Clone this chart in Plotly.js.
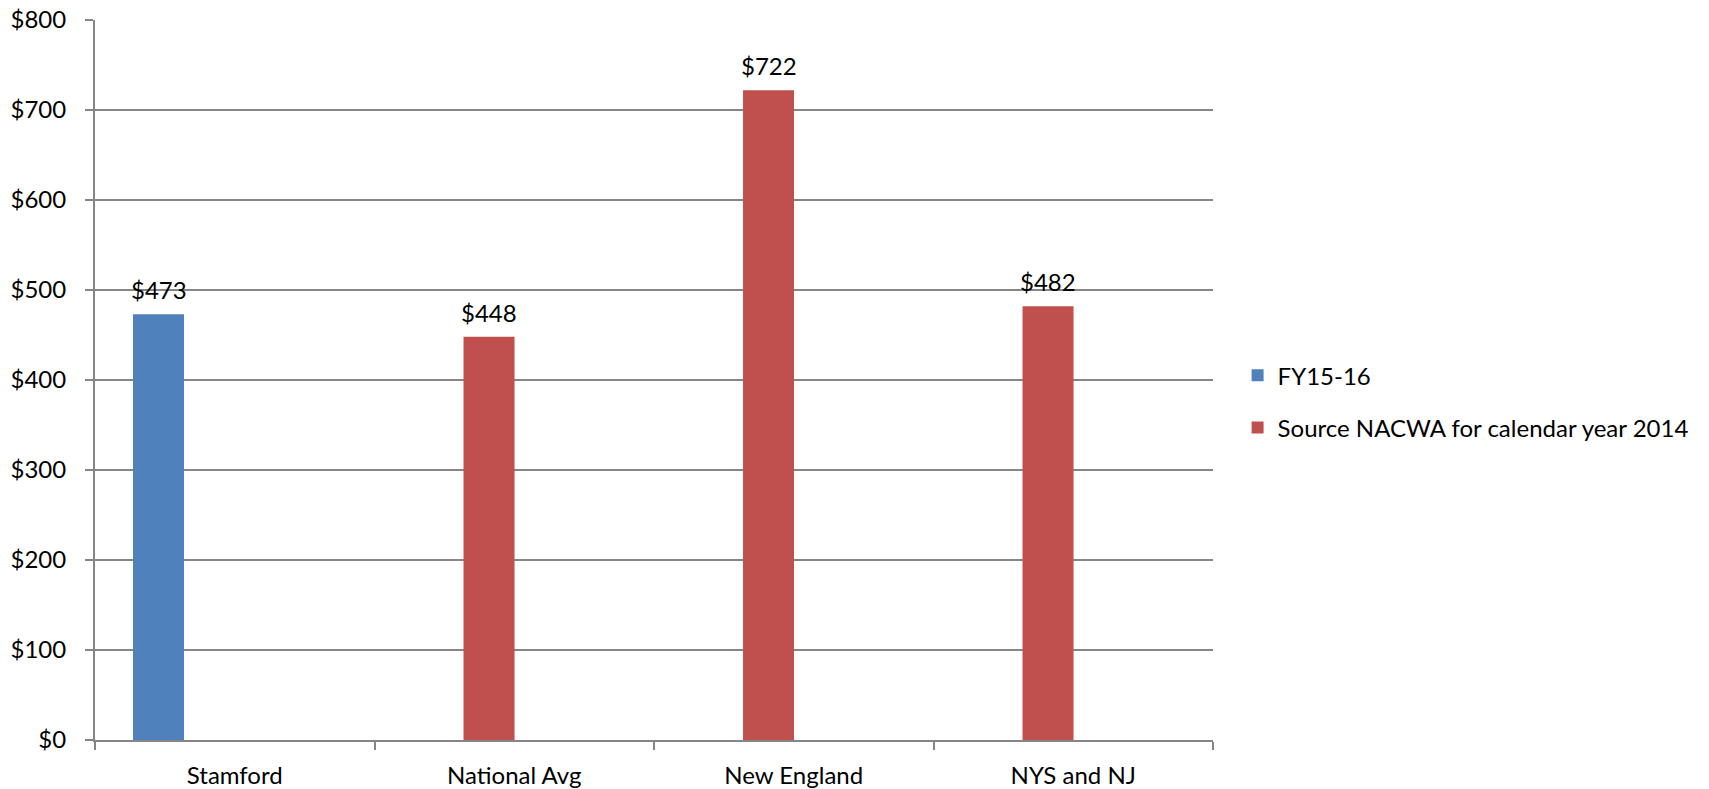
<!DOCTYPE html>
<html>
<head>
<meta charset="utf-8">
<script src="https://cdn.plot.ly/plotly-3.0.1.min.js"></script>
<style>html,body{margin:0;padding:0;background:#fff;}#chart{width:1709px;height:789px;}</style>
</head>
<body>
<div id="chart"></div>
<script>
const categories = ['Stamford', 'National Avg', 'New England', 'NYS and NJ'];
const fy1516 = [473, null, null, null];
const nacwa = [null, 448, 722, 482];
const seriesNames = ['FY15-16', 'Source NACWA for calendar year 2014'];
const yTicks = [0, 100, 200, 300, 400, 500, 600, 700, 800];

const FONT = 'Lato, "Open Sans", sans-serif';
const FS = 24;
const barWidth = 0.1825;
const offsets = [-0.364, -0.1815];
const colors = ['#4F81BD', '#C0504D'];
const series = [fy1516, nacwa];

const traces = series.map((vals, k) => ({
  type: 'bar',
  name: seriesNames[k],
  legendgroup: 'g' + k,
  x: categories,
  y: vals,
  width: barWidth,
  offset: offsets[k],
  marker: {color: colors[k], line: {width: 0}},
  hoverinfo: 'skip'
}));

const annotations = [];
series.forEach((vals, k) => {
  vals.forEach((v, i) => {
    if (v === null) return;
    annotations.push({
      x: i + offsets[k] + barWidth / 2,
      y: v,
      xref: 'x', yref: 'y',
      text: '$' + v,
      showarrow: false,
      xanchor: 'center',
      yanchor: 'bottom',
      yshift: 8,
      font: {family: FONT, size: FS, color: '#000'}
    });
  });
});

const layout = {
  width: 1709,
  height: 789,
  margin: {l: 95, r: 496, t: 20, b: 49},
  paper_bgcolor: '#fff',
  plot_bgcolor: '#fff',
  font: {family: FONT, size: FS, color: '#000'},
  showlegend: true,
  legend: {
    x: 1.022, xanchor: 'left', xref: 'paper',
    y: 0.47, yanchor: 'middle',
    font: {family: FONT, size: FS, color: '#000'},
    tracegroupgap: 18,
    itemsizing: 'constant',
    bgcolor: 'rgba(0,0,0,0)'
  },
  xaxis: {
    type: 'category',
    range: [-0.5, 3.5],
    showline: true, linecolor: '#868686', linewidth: 2,
    ticks: 'outside', tickson: 'boundaries', ticklen: 8, tickcolor: '#868686', tickwidth: 2,
    showgrid: false,
    ticklabelstandoff: 13,
    tickfont: {family: FONT, size: FS, color: '#000'},
    fixedrange: true
  },
  yaxis: {
    range: [0, 800],
    tickvals: yTicks,
    ticktext: yTicks.map(v => '$' + v),
    showline: true, linecolor: '#868686', linewidth: 2,
    ticks: 'outside', ticklen: 8, tickcolor: '#868686', tickwidth: 2,
    showgrid: true, gridcolor: '#868686', gridwidth: 2,
    zeroline: false,
    ticklabelstandoff: 14,
    tickfont: {family: FONT, size: FS, color: '#000'},
    fixedrange: true
  },
  annotations: annotations
};

Plotly.newPlot('chart', traces, layout, {displayModeBar: false, staticPlot: true});
</script>
</body>
</html>
